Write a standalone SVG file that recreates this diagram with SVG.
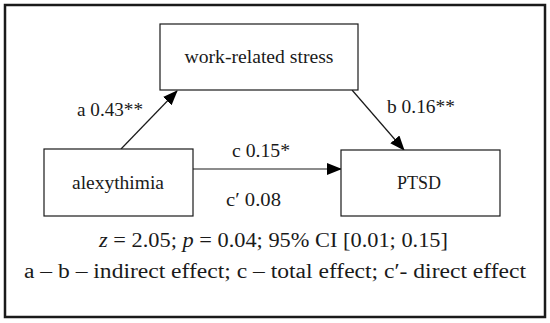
<svg xmlns="http://www.w3.org/2000/svg" width="550" height="323" viewBox="0 0 550 323">
<defs>
<style>
.node rect{fill:#fff;stroke:#1a1a1a;stroke-width:1.2}
.ntext{font-family:"Liberation Serif","Times New Roman",serif;font-size:18px;fill:#1a1a1a;text-anchor:middle}
.lbl{font-family:"Liberation Serif","Times New Roman",serif;font-size:19px;fill:#1a1a1a}
.big{font-family:"Liberation Serif","Times New Roman",serif;font-size:20px;fill:#1a1a1a}
.edge{stroke:#1a1a1a;stroke-width:1.2;fill:none}
</style>
<marker id="ah" markerUnits="userSpaceOnUse" markerWidth="15" markerHeight="12" refX="14" refY="6" orient="auto">
<path d="M0,0 L15,6 L0,12 Z" fill="#000"/>
</marker>
</defs>
<rect width="550" height="323" fill="#fff"/>
<rect x="5" y="5" width="540" height="312" fill="none" stroke="#1a1a1a" stroke-width="2.5"/>
<g id="connectors">
<line class="edge" x1="121" y1="149" x2="177" y2="91" marker-end="url(#ah)"/>
<line class="edge" x1="352" y1="90" x2="404" y2="150" marker-end="url(#ah)"/>
<line class="edge" x1="193" y1="169" x2="341" y2="169" marker-end="url(#ah)"/>
</g>
<g id="node-stress" class="node">
<rect x="160" y="24" width="198" height="66"/>
<text class="ntext" x="259" y="63" textLength="149" lengthAdjust="spacingAndGlyphs">work-related stress</text>
</g>
<g id="node-alexithymia" class="node">
<rect x="44" y="149" width="149" height="67"/>
<text class="ntext" x="118" y="189" textLength="92" lengthAdjust="spacingAndGlyphs">alexythimia</text>
</g>
<g id="node-ptsd" class="node">
<rect x="341" y="150" width="159" height="66"/>
<text class="ntext" x="419" y="189" textLength="44" lengthAdjust="spacingAndGlyphs">PTSD</text>
</g>
<g id="labels">
<text class="lbl" x="77" y="116" textLength="66" lengthAdjust="spacingAndGlyphs">a 0.43**</text>
<text class="lbl" x="387" y="113" textLength="68" lengthAdjust="spacingAndGlyphs">b 0.16**</text>
<text class="lbl" x="232" y="157" textLength="58" lengthAdjust="spacingAndGlyphs">c 0.15*</text>
<text class="lbl" x="226" y="206" textLength="55" lengthAdjust="spacingAndGlyphs">c′ 0.08</text>
<text class="big" x="99" y="247" textLength="349" lengthAdjust="spacingAndGlyphs"><tspan font-style="italic">z</tspan> = 2.05; <tspan font-style="italic">p</tspan> = 0.04; 95% CI [0.01; 0.15]</text>
<text class="big" x="24" y="278" textLength="502" lengthAdjust="spacingAndGlyphs">a – b – indirect effect; c – total effect; c′- direct effect</text>
</g>
</svg>
